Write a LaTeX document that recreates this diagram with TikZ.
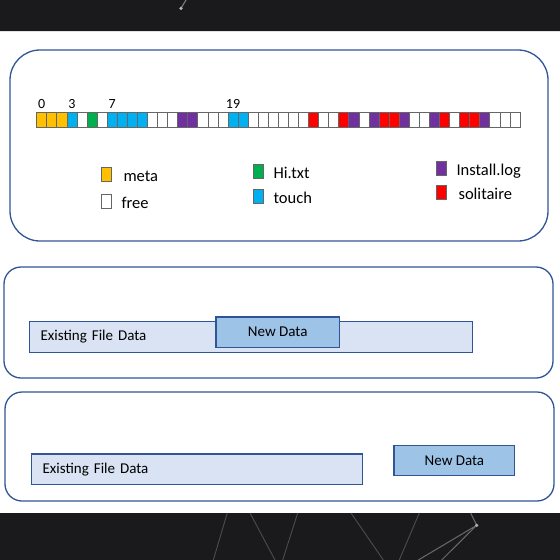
\documentclass[tikz,border=0pt]{standalone}
\usepackage{fontspec}
\setmainfont{Carlito}
\usetikzlibrary{positioning, calc}
\definecolor{band}{HTML}{1A1A1C}
\definecolor{frame}{HTML}{2F5597}
\definecolor{oldfill}{HTML}{DAE3F3}
\definecolor{newfill}{HTML}{9DC3E6}
\definecolor{metac}{HTML}{FFC000}
\definecolor{touchc}{HTML}{00B0F0}
\definecolor{hic}{HTML}{00B050}
\definecolor{logc}{HTML}{7030A0}
\definecolor{solc}{HTML}{FF0000}

\begin{document}
\begin{tikzpicture}[x=1pt, y=-1pt,
    panel/.style={draw=frame, line width=1.3pt},
    cell/.style={draw=black!60, line width=0.7pt, minimum width=10.07pt, minimum height=15pt, inner sep=0pt, outer sep=0pt},
    swatch/.style={draw=black!60, line width=0.7pt, minimum width=10pt, minimum height=14pt, inner sep=0pt},
    key/.style={font=\fontsize{16.5}{18}\selectfont, inner sep=0pt},
    olddata/.style={draw=frame, fill=oldfill, line width=1.3pt, minimum height=30.5pt, inner xsep=11pt, inner ysep=0pt, align=left, font=\fontsize{15}{18}\selectfont},
    newdata/.style={draw=frame, fill=newfill, line width=1.3pt, minimum height=30.5pt, inner sep=0pt, font=\fontsize{15}{18}\selectfont}]
  \useasboundingbox (0,0) rectangle (560,560);
  \fill[band] (0,0) rectangle (560,31) (0,513) rectangle (560,560);
  \draw[white!22!band, line width=0.9pt] (227.3,513) -- (213.3,560) (250,513) -- (275,560)
    (297.7,513) -- (282.7,560) (351,513) -- (383.3,560) (419.3,513) -- (399.3,560);
  \draw[white!35!band, line width=1pt] (470.7,513) -- (476.7,525.3) -- (418.3,560) (476.7,525.3) -- (441.7,560);
  \fill[white!65!band] (476.7,525.3) circle (1.8pt);
  \draw[white!40!band, line width=1.2pt] (181,8.3) -- (186,0);
  \fill[white!70!band] (181,8.3) circle (1.8pt);

  \draw[panel, rounded corners=30pt] (10,50) rectangle (548,241);
  \draw[panel, rounded corners=17pt] (4,267) rectangle (553,378);
  \draw[panel, rounded corners=17pt] (5,392) rectangle (554,501);

  \foreach \c [count=\i from 0] in {metac,metac,metac,touchc,white,hic,white,touchc,touchc,touchc,touchc,
      white,white,white,logc,logc,white,white,white,touchc,touchc,white,white,white,white,white,white,
      solc,white,white,solc,logc,white,logc,solc,solc,logc,white,white,logc,solc,white,solc,solc,logc,
      white,white,white}
    \node[cell, fill=\c] (c\i) at (41.7+10.07*\i, 120.2) {};
  \foreach \i in {0,3,7,19}
    \node[above=4pt of c\i, font=\fontsize{14}{16}\selectfont, inner sep=0pt] (n\i) {\i};

  \node[swatch, fill=metac] (meta) at (106,174) {};
  \node[key, right=12pt of meta.south east, anchor=base west] (metatxt) {meta};
  \node[swatch, fill=white] (free) at (106,201) {};
  \node[key, right=10pt of free.south east, anchor=base west] (freetxt) {free};
  \node[swatch, fill=hic] (hi) at (258,171.5) {};
  \node[key, right=10pt of hi.south east, anchor=base west] (hitxt) {Hi.txt};
  \node[swatch, fill=touchc] (touch) at (258,196) {};
  \node[key, right=10pt of touch.south east, anchor=base west] (touchtxt) {touch};
  \node[swatch, fill=logc] (log) at (441,168) {};
  \node[key, right=10pt of log.south east, anchor=base west] (logtxt) {Install.log};
  \node[swatch, fill=solc] (sol) at (441,192.5) {};
  \node[key, right=12pt of sol.south east, anchor=base west] (soltxt) {solitaire};

  \node[olddata, text width=420.7pt, anchor=north west] (old1) at (29,321) {Existing File Data};
  \node[newdata, minimum width=123.3pt] (new1) at (277.7,332.2) {New Data};
  \node[olddata, text width=308.7pt, anchor=north west] (old2) at (31,453.3) {Existing File Data};
  \node[newdata, minimum width=120.7pt] (new2) at (454.4,460.5) {New Data};
\end{tikzpicture}
\end{document}
